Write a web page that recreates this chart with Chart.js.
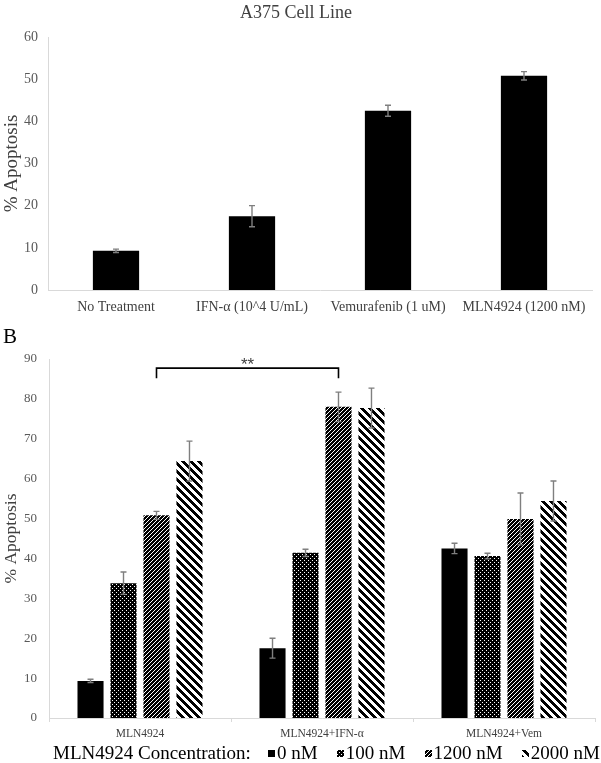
<!DOCTYPE html>
<html>
<head>
<meta charset="utf-8">
<script src="https://cdn.jsdelivr.net/npm/chart.js@4.4.1/dist/chart.umd.min.js"></script>
<style>
  body { margin: 0; width: 601px; height: 763px; overflow: hidden; background: #fff; position: relative; font-family: 'Liberation Serif', serif; }
  canvas { position: absolute; left: 0; }
  #legendTitle { position: absolute; left: 53px; top: 743px; font-size: 19px; line-height: 19px; color: #000; white-space: nowrap; }
  #legendItems { position: absolute; left: 268px; right: 1px; top: 743px; font-size: 19px; line-height: 19px; color: #000; display: flex; justify-content: space-between; white-space: nowrap; }
  #legendItems span { display: inline-flex; align-items: center; }
  #legendItems canvas { position: static; margin-right: 2px; margin-top: 2px; }
</style>
</head>
<body>
<canvas id="topChart" width="601" height="322" style="top:0"></canvas>
<canvas id="bottomChart" width="601" height="443" style="top:320px"></canvas>
<div id="legendTitle">MLN4924 Concentration:</div>
<div id="legendItems"></div>
<script>
// panel A data
const treatments = ['No Treatment', 'IFN-α (10^4 U/mL)', 'Vemurafenib (1 uM)', 'MLN4924 (1200 nM)'];
const treatmentValues = [9.3, 17.5, 42.5, 50.8];
const treatmentErrors = [0.4, 2.5, 1.3, 1.0];

// panel B data
const groups = ['MLN4924', 'MLN4924+IFN-α', 'MLN4924+Vem'];
const concentrations = ['0 nM', '100 nM', '1200 nM', '2000 nM'];
const conc0 = [9.3, 17.5, 42.5];
const conc0Err = [0.4, 2.5, 1.3];
const conc100 = [33.8, 41.4, 40.6];
const conc100Err = [2.8, 0.9, 0.7];
const conc1200 = [50.8, 78.0, 49.9];
const conc1200Err = [1.0, 3.7, 6.5];
const conc2000 = [64.4, 77.7, 54.4];
const conc2000Err = [5.0, 5.0, 5.0];

// significance bracket: MLN4924 1200 nM vs MLN4924+IFN-α 1200 nM
const sigFrom = [0, 2];   // [group, dataset]
const sigTo = [1, 2];
const sigLevel = 87.7;
const sigLegLevel = 85.2;
const sigText = '**';

const serif = 'Liberation Serif';

// fill patterns like the excel ones
function makeFill(ctx, kind) {
    if (kind == 'solid') return '#000';
    let size = kind == 'wideDown' ? 8 : 4;
    let c = document.createElement('canvas');
    c.width = size; c.height = size;
    let cx = c.getContext('2d');
    let img = cx.createImageData(size, size);
    for (let y = 0; y < size; y++) {
        for (let x = 0; x < size; x++) {
            let white = false;
            if (kind == 'dots') white = (x == 0 && y == 0) || (x == 2 && y == 2);
            if (kind == 'fineUp') white = (x + y) % 4 == 0;
            if (kind == 'wideDown') white = ((x - y) % 8 + 8) % 8 >= 4;
            let k = (y * size + x) * 4;
            let v = white ? 255 : 0;
            img.data[k] = v; img.data[k + 1] = v; img.data[k + 2] = v; img.data[k + 3] = 255;
        }
    }
    cx.putImageData(img, 0, 0);
    return ctx.createPattern(c, 'repeat');
}

const errorBars = {
    id: 'errorBars',
    afterDatasetsDraw(chart) {
        const ctx = chart.ctx;
        const yScale = chart.scales.y;
        chart.data.datasets.forEach((ds, i) => {
            const meta = chart.getDatasetMeta(i);
            meta.data.forEach((bar, j) => {
                let v = ds.data[j], e = ds.errors[j];
                let top = yScale.getPixelForValue(v + e);
                let bot = yScale.getPixelForValue(v - e);
                ctx.save();
                ctx.strokeStyle = '#7f7f7f';
                ctx.lineWidth = 1.4;
                ctx.beginPath();
                ctx.moveTo(bar.x, top); ctx.lineTo(bar.x, bot);
                ctx.moveTo(bar.x - 3, top); ctx.lineTo(bar.x + 3, top);
                ctx.moveTo(bar.x - 3, bot); ctx.lineTo(bar.x + 3, bot);
                ctx.stroke();
                ctx.restore();
            });
        });
    }
};

const sigBracket = {
    id: 'sigBracket',
    afterDatasetsDraw(chart) {
        const ctx = chart.ctx;
        const yScale = chart.scales.y;
        let x1 = chart.getDatasetMeta(sigFrom[1]).data[sigFrom[0]].x;
        let x2 = chart.getDatasetMeta(sigTo[1]).data[sigTo[0]].x;
        let yTop = yScale.getPixelForValue(sigLevel);
        let yLeg = yScale.getPixelForValue(sigLegLevel);
        ctx.save();
        ctx.strokeStyle = '#000';
        ctx.lineWidth = 1.6;
        ctx.beginPath();
        ctx.moveTo(x1, yLeg); ctx.lineTo(x1, yTop); ctx.lineTo(x2, yTop); ctx.lineTo(x2, yLeg);
        ctx.stroke();
        ctx.fillStyle = '#404040';
        ctx.font = '17px "Liberation Sans"';
        ctx.textAlign = 'center';
        ctx.textBaseline = 'alphabetic';
        ctx.fillText(sigText, (x1 + x2) / 2, yTop + 2);
        ctx.restore();
    }
};

const topChart = new Chart(document.getElementById('topChart'), {
    type: 'bar',
    data: {
        labels: treatments,
        datasets: [{
            data: treatmentValues,
            errors: treatmentErrors,
            backgroundColor: '#000',
            borderWidth: 0,
            barPercentage: 0.34,
            categoryPercentage: 1
        }]
    },
    options: {
        responsive: false,
        animation: false,
        devicePixelRatio: 1,
        layout: { padding: { left: 0, right: 9, top: 0, bottom: 0 } },
        plugins: {
            legend: { display: false },
            tooltip: { enabled: false },
            title: {
                display: true,
                text: 'A375 Cell Line',
                color: '#404040',
                font: { family: serif, size: 18, weight: 'normal' },
                padding: { top: 2, bottom: 13.4 }
            }
        },
        scales: {
            x: {
                grid: { display: false, drawTicks: false },
                border: { display: true, color: '#d9d9d9' },
                ticks: { color: '#404040', font: { family: serif, size: 14 }, padding: 9, maxRotation: 0, autoSkip: false },
                afterFit: (scale) => { scale.height = 32; }
            },
            y: {
                min: 0, max: 60,
                grid: { display: false, drawTicks: false },
                border: { display: true, color: '#d9d9d9' },
                ticks: { stepSize: 10, color: '#595959', font: { family: serif, size: 14 }, padding: 10 },
                title: { display: true, text: '% Apoptosis', color: '#404040', font: { family: serif, size: 19, lineHeight: 1 }, padding: { top: 2.5, bottom: 0 } },
                afterFit: (scale) => { scale.width = 48; }
            }
        }
    },
    plugins: [errorBars]
});

const bctx = document.getElementById('bottomChart').getContext('2d');
const kinds = ['solid', 'dots', 'fineUp', 'wideDown'];
const concValues = [conc0, conc100, conc1200, conc2000];
const concErrors = [conc0Err, conc100Err, conc1200Err, conc2000Err];

const bottomChart = new Chart(bctx, {
    type: 'bar',
    data: {
        labels: groups,
        datasets: concentrations.map((c, i) => ({
            label: c,
            data: concValues[i],
            errors: concErrors[i],
            kind: kinds[i],
            backgroundColor: makeFill(bctx, kinds[i]),
            borderWidth: 0,
            barPercentage: 0.79,
            categoryPercentage: 0.725
        }))
    },
    options: {
        responsive: false,
        animation: false,
        devicePixelRatio: 1,
        layout: { padding: { left: 3, right: 6, top: 0, bottom: 0 } },
        plugins: {
            legend: { display: false },
            tooltip: { enabled: false },
            title: {
                display: true,
                text: 'B',
                align: 'start',
                color: '#000',
                font: { family: serif, size: 21, weight: 'normal' },
                padding: { top: 4.4, bottom: 9.4 }
            }
        },
        scales: {
            x: {
                grid: { display: true, drawOnChartArea: false, drawTicks: true, tickLength: 4, color: '#d9d9d9', offset: true },
                border: { display: true, color: '#d9d9d9' },
                ticks: { color: '#404040', font: { family: serif, size: 11.5 }, padding: 5.5, maxRotation: 0, autoSkip: false },
                afterFit: (scale) => { scale.height = 45; }
            },
            y: {
                min: 0, max: 90,
                grid: { display: false, drawTicks: false },
                border: { display: true, color: '#d9d9d9' },
                ticks: { stepSize: 10, color: '#595959', font: { family: serif, size: 13 }, padding: 12 },
                title: { display: true, text: '% Apoptosis', color: '#404040', font: { family: serif, size: 17.5, lineHeight: 1 }, padding: { top: 0, bottom: 0 } },
                afterFit: (scale) => { scale.width = 46; }
            }
        }
    },
    plugins: [errorBars, sigBracket]
});

// legend row built from the chart datasets
const legendBox = document.getElementById('legendItems');
bottomChart.data.datasets.forEach(ds => {
    let item = document.createElement('span');
    let sw = document.createElement('canvas');
    sw.width = 7; sw.height = 7;
    let sctx = sw.getContext('2d');
    sctx.fillStyle = makeFill(sctx, ds.kind);
    sctx.fillRect(0, 0, 7, 7);
    item.appendChild(sw);
    item.appendChild(document.createTextNode(ds.label));
    legendBox.appendChild(item);
});
</script>
</body>
</html>
